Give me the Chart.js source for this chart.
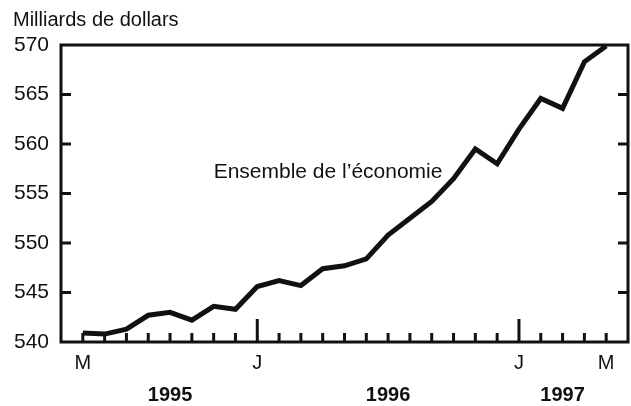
<!DOCTYPE html>
<html lang="fr">
<head>
    <meta charset="UTF-8">
    <title>Ensemble de l'économie</title>
    <script src="https://cdn.jsdelivr.net/npm/chart.js"></script>
    <style>
        html, body {
            margin: 0;
            padding: 0;
            background: #fff;
        }
        .chart-container {
            width: 631px;
            height: 406px;
        }
    </style>
</head>
<body>

<div class="chart-container">
    <canvas id="economyChart"></canvas>
</div>

<script>
    // mai 1995 -> mai 1997, un point par mois
    const monthInitials = ['M', 'J', 'J', 'A', 'S', 'O', 'N', 'D',
        'J', 'F', 'M', 'A', 'M', 'J', 'J', 'A', 'S', 'O', 'N', 'D',
        'J', 'F', 'M', 'A', 'M'];
    const labelledMonths = [0, 8, 20, 24];
    const januaryMonths = [8, 20];
    const values = [540.9, 540.8, 541.3, 542.7, 543.0, 542.2, 543.6, 543.3,
        545.6, 546.2, 545.7, 547.4, 547.7, 548.4, 550.8, 552.5, 554.2, 556.5, 559.5, 558.0,
        561.5, 564.6, 563.6, 568.3, 569.9];
    const yearLabels = ['1995', '1996', '1997'];
    const yearCentres = [4, 14, 22];
    const yTicks = [540, 545, 550, 555, 560, 565, 570];

    const fontFamily = '"Liberation Sans", Arial, sans-serif';

    const framePlugin = {
        id: 'frame',
        afterDraw(chart) {
            const ctx = chart.ctx;
            const area = chart.chartArea;
            const xScale = chart.scales.x;
            const yScale = chart.scales.y;

            ctx.save();
            ctx.strokeStyle = '#111';
            ctx.lineWidth = 3;
            ctx.strokeRect(area.left, area.top, area.right - area.left, area.bottom - area.top);

            // petites marques vers l'intérieur, à gauche et à droite
            yTicks.forEach(v => {
                if (v === 540 || v === 570) return;
                const y = yScale.getPixelForValue(v);
                ctx.beginPath();
                ctx.moveTo(area.left, y);
                ctx.lineTo(area.left + 10, y);
                ctx.moveTo(area.right, y);
                ctx.lineTo(area.right - 10, y);
                ctx.stroke();
            });

            // marques mensuelles, plus longues en janvier
            monthInitials.forEach((m, i) => {
                const x = xScale.getPixelForValue(i);
                const len = januaryMonths.includes(i) ? 23 : 9;
                ctx.beginPath();
                ctx.moveTo(x, area.bottom);
                ctx.lineTo(x, area.bottom - len);
                ctx.stroke();
            });

            ctx.fillStyle = '#111';
            ctx.textBaseline = 'middle';

            ctx.font = 'bold 20px ' + fontFamily;
            ctx.textAlign = 'center';
            yearLabels.forEach((year, i) => {
                ctx.fillText(year, xScale.getPixelForValue(yearCentres[i]), 395);
            });

            ctx.font = '20px ' + fontFamily;
            ctx.textAlign = 'left';
            ctx.fillText('Milliards de dollars', 13, 20);

            ctx.font = '21px ' + fontFamily;
            ctx.fillText('Ensemble de l\u2019économie', xScale.getPixelForValue(6), yScale.getPixelForValue(557.2));
            ctx.restore();
        }
    };

    const ctx = document.getElementById('economyChart').getContext('2d');
    new Chart(ctx, {
        type: 'line',
        data: {
            datasets: [{
                data: values.map((v, i) => ({ x: i, y: v })),
                borderColor: '#111',
                borderWidth: 5,
                pointRadius: 0,
                tension: 0,
                fill: false
            }]
        },
        options: {
            responsive: true,
            maintainAspectRatio: false,
            animation: false,
            layout: { padding: { top: 45, right: 3, left: 0, bottom: 0 } },
            plugins: {
                legend: { display: false },
                tooltip: { enabled: false }
            },
            scales: {
                x: {
                    type: 'linear',
                    min: -1,
                    max: 25,
                    afterFit(scale) { scale.height = 64; },
                    afterBuildTicks(scale) {
                        scale.ticks = labelledMonths.map(i => ({ value: i }));
                    },
                    grid: { display: false, drawTicks: false },
                    border: { display: false },
                    ticks: {
                        autoSkip: false,
                        maxRotation: 0,
                        padding: 9,
                        color: '#111',
                        font: { family: fontFamily, size: 20 },
                        callback: value => monthInitials[value]
                    }
                },
                y: {
                    min: 540,
                    max: 570,
                    afterFit(scale) { scale.width = 61; },
                    grid: { display: false, drawTicks: false },
                    border: { display: false },
                    ticks: {
                        stepSize: 5,
                        padding: 12,
                        color: '#111',
                        font: { family: fontFamily, size: 21 }
                    }
                }
            }
        },
        plugins: [framePlugin]
    });
</script>

</body>
</html>
